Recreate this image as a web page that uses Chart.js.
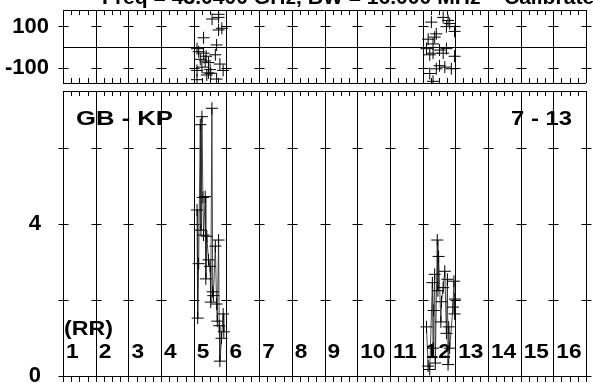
<!DOCTYPE html>
<html>
<head>
<meta charset="utf-8">
<script src="https://cdn.jsdelivr.net/npm/chart.js@4"></script>
<style>
  body { margin: 0; background: #fff; }
  #wrap { position: relative; width: 593px; height: 383px; overflow: hidden; }
  canvas { position: absolute; left: 0; }
</style>
</head>
<body>
<div id="wrap">
  <canvas id="phaseChart" width="593" height="91" style="top:0"></canvas>
  <canvas id="ampChart" width="593" height="292" style="top:91px"></canvas>
</div>
<script>
// IF numbers shown along the bottom, x runs 0..16 (IF n spans n-1..n)
const ifLabels = ["1","2","3","4","5","6","7","8","9","10","11","12","13","14","15","16"];
const phaseTicks = [-100, 100];
const ampTicks = [0, 4];

// IF 5 amplitude
const ampX5 = [4.10, 4.12, 4.15, 4.20, 4.22, 4.25, 4.28, 4.30, 4.35, 4.37, 4.40, 4.45, 4.50,
               4.52, 4.555, 4.58, 4.60, 4.66, 4.70, 4.72, 4.76, 4.78, 4.80, 4.85, 4.90, 4.92];
const amp5  = [4.36, 1.52, 2.95, 6.60, 3.83, 6.81, 4.69, 3.70, 4.71, 2.55, 3.67, 3.05, 2.88,
               1.94, 7.03, 2.21, 2.11, 3.41, 1.89, 1.44, 3.57, 1.32, 0.39, 0.99, 1.63, 1.16];
// IF 12 amplitude
const ampX12 = [11.12, 11.17, 11.22, 11.30, 11.32, 11.34, 11.37, 11.39, 11.45, 11.47, 11.49, 11.56,
                11.58, 11.63, 11.68, 11.73, 11.76, 11.78, 11.80, 11.83, 11.93, 11.96, 11.98, 11.99];
const amp12  = [1.29, 0.26, 0.17, 2.45, 0.73, 1.72, 2.67, 0.34, 3.57, 2.24, 3.14, 1.42,
                1.95, 2.32, 2.75, 1.12, 2.54, 0.30, 1.29, 0.73, 1.81, 2.49, 1.63, 2.02];

// IF 5 phase (degrees)
const phaseX5 = [4.10, 4.10, 4.10, 4.15, 4.20, 4.25, 4.30, 4.30, 4.35, 4.38, 4.40, 4.45, 4.45,
                 4.50, 4.52, 4.56, 4.66, 4.70, 4.70, 4.76, 4.76, 4.76, 4.80, 4.86, 4.90];
const phase5  = [-8, -114, -159, -23, -60, -98, 45, -30, -68, -45, -136, -76, -126,
                 -110, -128, 136, -38, 10, -156, 159, 144, 83, -83, 91, -114];
// IF 12 phase (degrees)
const phaseX12 = [11.12, 11.17, 11.22, 11.22, 11.27, 11.32, 11.32, 11.32, 11.37, 11.42, 11.42,
                  11.52, 11.52, 11.63, 11.63, 11.68, 11.73, 11.73, 11.78, 11.83, 11.88, 11.98, 11.98];
const phase12  = [-8, 38, -38, -129, 121, 15, -30, -167, 48, 64, -106,
                  -15, -91, 144, -30, -98, 99, -8, 129, 114, -106, 76, -45];

const FONT = 'bold 21px "Liberation Sans", Arial, sans-serif';
const pts = (xs, ys) => xs.map((v, i) => ({ x: v, y: ys[i] }));

function stretchText(ctx, txt, x, y, w) {
  const m = ctx.measureText(txt).width;
  ctx.save();
  ctx.translate(x, y);
  ctx.scale(w ? w / m : 1.08, 1);
  ctx.fillText(txt, 0, 0);
  ctx.restore();
}

function line(ctx, x1, y1, x2, y2) {
  ctx.beginPath(); ctx.moveTo(x1, y1); ctx.lineTo(x2, y2); ctx.stroke();
}

// panel frame: IF separators, small y marks on every separator, quarter ticks on borders
function drawFrame(chart, marks, topY, bottomY, bottomTickLen) {
  const { ctx, chartArea, scales: { x, y } } = chart;
  ctx.save();
  ctx.strokeStyle = '#000';
  ctx.lineWidth = 1;
  for (let i = 0; i <= 16; i++) {
    const px = Math.round(x.getPixelForValue(i)) + 0.5;
    line(ctx, px, topY, px, bottomY);
    marks.forEach(m => {
      const py = Math.round(y.getPixelForValue(m)) + 0.5;
      line(ctx, px - 5, py, px + 5, py);
    });
  }
  for (let q = 0; q <= 64; q++) {
    const px = Math.round(x.getPixelForValue(q / 4)) + 0.5;
    line(ctx, px, topY, px, topY + 5);
    line(ctx, px, bottomY, px, bottomY + bottomTickLen);
  }
  line(ctx, chartArea.left, topY + 0.5, chartArea.right, topY + 0.5);
  line(ctx, chartArea.left, bottomY + 0.5, chartArea.right, bottomY + 0.5);
  ctx.restore();
}

const phaseFrame = {
  id: 'phaseFrame',
  beforeDatasetsDraw(chart) {
    const { ctx, chartArea, scales: { y } } = chart;
    drawFrame(chart, phaseTicks, chartArea.top, chartArea.bottom - 1, -5);
    ctx.save();
    ctx.strokeStyle = '#000';
    const zy = Math.round(y.getPixelForValue(0)) + 0.5;
    line(ctx, chartArea.left, zy, chartArea.right, zy);
    ctx.fillStyle = '#000';
    ctx.font = FONT;
    ctx.textBaseline = 'alphabetic';
    stretchText(ctx, 'Freq = 43.0400 GHz, BW = 16.000 MHz    Calibrated', 102, 4, 505);
    ctx.restore();
  }
};

const ampFrame = {
  id: 'ampFrame',
  beforeDatasetsDraw(chart) {
    const { ctx, chartArea, scales: { x } } = chart;
    drawFrame(chart, [0, 2, 4, 6], 0, chartArea.bottom, 6);
    ctx.save();
    ctx.fillStyle = '#000';
    ctx.font = FONT;
    ctx.textBaseline = 'alphabetic';
    stretchText(ctx, 'GB - KP', 76, 34, 97);
    stretchText(ctx, '7 - 13', 511, 34, 61);
    stretchText(ctx, '(RR)', 64, 244, 49);
    ifLabels.forEach((t, i) => {
      stretchText(ctx, t, x.getPixelForValue(i) + 3, 267);
    });
    ctx.restore();
  }
};

const yAxis = (min, max, tickVals, pad) => ({
  type: 'linear',
  min: min,
  max: max,
  afterFit: s => { s.width = 63; s.paddingTop = 0; s.paddingBottom = 0; },
  afterBuildTicks: s => { s.ticks = tickVals.map(v => ({ value: v })); },
  grid: { display: false },
  border: { display: false },
  ticks: { color: '#000', padding: pad, font: { family: '"Liberation Sans", Arial', size: 22, weight: 'bold' } }
});

const xAxis = { type: 'linear', min: 0, max: 16, display: false };

const crossSet = (data, withLine) => ({
  data: data,
  showLine: withLine,
  borderColor: 'rgba(30,30,30,0.8)',
  borderWidth: 1,
  pointStyle: 'cross',
  pointRadius: 6,
  pointBorderColor: '#000',
  pointBorderWidth: 1
});

new Chart(document.getElementById('phaseChart').getContext('2d'), {
  type: 'scatter',
  data: { datasets: [crossSet(pts(phaseX5, phase5), false), crossSet(pts(phaseX12, phase12), false)] },
  options: {
    responsive: false,
    animation: false,
    layout: { padding: { top: 10, right: 1, bottom: 0, left: 0 } },
    plugins: { legend: { display: false }, tooltip: { enabled: false } },
    scales: { x: xAxis, y: yAxis(-180, 180, phaseTicks, 6) }
  },
  plugins: [phaseFrame]
});

new Chart(document.getElementById('ampChart').getContext('2d'), {
  type: 'scatter',
  data: { datasets: [crossSet(pts(ampX5, amp5), true), crossSet(pts(ampX12, amp12), true)] },
  options: {
    responsive: false,
    animation: false,
    layout: { padding: { top: 0, right: 1, bottom: 6, left: 0 } },
    plugins: { legend: { display: false }, tooltip: { enabled: false } },
    scales: { x: xAxis, y: yAxis(0, 7.3, ampTicks, 14) }
  },
  plugins: [ampFrame]
});
</script>
</body>
</html>
